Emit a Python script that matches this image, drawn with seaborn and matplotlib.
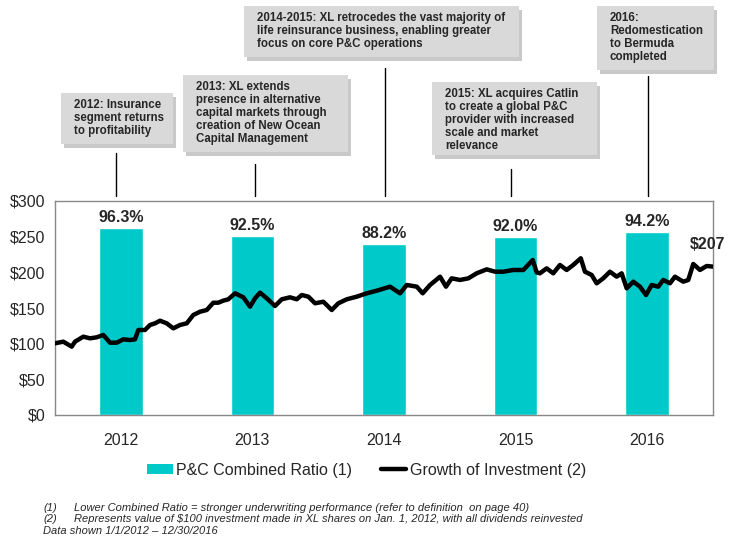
import matplotlib
matplotlib.use("Agg")
import matplotlib.pyplot as plt
from matplotlib.patches import Rectangle, Patch
from matplotlib.lines import Line2D
import seaborn as sns
import pandas as pd

# Bars: P&C combined ratio, drawn on the $ scale as in the original
years = ["2012", "2013", "2014", "2015", "2016"]
bar_heights = [262.7, 251.5, 239.8, 249.6, 256.7]
ratio_labels = ["96.3%", "92.5%", "88.2%", "92.0%", "94.2%"]

# Growth of $100 investment (decimal year, value)
line_years = [
    2012.000, 2012.063, 2012.127, 2012.152, 2012.215, 2012.266, 2012.317, 2012.367,
    2012.418, 2012.469, 2012.519, 2012.570, 2012.608, 2012.633, 2012.684, 2012.722,
    2012.760, 2012.798, 2012.849, 2012.899, 2012.950, 2013.001, 2013.051, 2013.102,
    2013.153, 2013.203, 2013.240, 2013.279, 2013.317, 2013.368, 2013.431, 2013.482,
    2013.520, 2013.558, 2013.609, 2013.672, 2013.723, 2013.786, 2013.837, 2013.875,
    2013.925, 2013.976, 2014.039, 2014.103, 2014.153, 2014.217, 2014.293, 2014.369,
    2014.445, 2014.546, 2014.584, 2014.622, 2014.673, 2014.749, 2014.794, 2014.850,
    2014.926, 2014.971, 2015.014, 2015.078, 2015.141, 2015.204, 2015.280, 2015.344,
    2015.407, 2015.483, 2015.559, 2015.630, 2015.660, 2015.685, 2015.736, 2015.786,
    2015.837, 2015.888, 2015.938, 2015.995, 2016.027, 2016.078, 2016.116, 2016.166,
    2016.217, 2016.268, 2016.306, 2016.344, 2016.394, 2016.445, 2016.491, 2016.534,
    2016.584, 2016.622, 2016.673, 2016.711, 2016.774, 2016.812, 2016.850, 2016.901,
    2016.952, 2017.000,
]
line_values = [
    100.5, 102.8, 95.8, 102.8, 109.8, 107.5, 108.9, 112.2,
    101.4, 101.4, 106.1, 105.1, 106.1, 119.2, 119.2, 126.2,
    128.5, 132.2, 128.5, 121.5, 126.2, 128.5, 140.2, 144.8,
    147.2, 157.4, 157.4, 160.3, 162.2, 170.6, 165.0, 151.9,
    163.6, 171.5, 163.6, 152.8, 162.2, 165.0, 162.2, 168.2,
    165.9, 156.6, 158.8, 147.2, 156.6, 162.2, 165.9, 170.6,
    174.3, 179.9, 175.2, 170.6, 182.3, 179.9, 170.6, 182.3,
    193.9, 179.9, 191.6, 189.3, 191.6, 198.6, 204.2, 200.9,
    200.9, 203.3, 203.3, 217.3, 200.0, 198.6, 205.6, 198.6,
    210.3, 203.3, 210.3, 219.7, 200.9, 196.3, 184.6, 191.6,
    200.9, 193.9, 198.6, 177.6, 186.9, 179.9, 168.2, 182.3,
    179.9, 189.3, 184.6, 193.9, 186.9, 189.3, 211.7, 203.3,
    208.9, 208.0,
]
end_label = "$207"

events = [
    "2012: Insurance\nsegment returns\nto profitability",
    "2013: XL extends\npresence in alternative\ncapital markets through\ncreation of New Ocean\nCapital Management",
    "2014-2015: XL retrocedes the vast majority of\nlife reinsurance business, enabling greater\nfocus on core P&C operations",
    "2015: XL acquires Catlin\nto create a global P&C\nprovider with increased\nscale and market\nrelevance",
    "2016:\nRedomestication\nto Bermuda\ncompleted",
]

footnotes = [
    ("(1)", "Lower Combined Ratio = stronger underwriting performance (refer to definition  on page 40)"),
    ("(2)", "Represents value of $100 investment made in XL shares on Jan. 1, 2012, with all dividends reinvested"),
]
data_note = "Data shown 1/1/2012 \u2013 12/30/2016"

teal = "#00C9C9"
W, H = 733, 548

sns.set_style("white")
plt.rcParams["font.family"] = ["Liberation Sans", "DejaVu Sans"]

fig = plt.figure(figsize=(W / 100, H / 100), dpi=100)
ax = fig.add_axes([55 / W, 1 - 415 / H, 658 / W, 214 / H])


def fx(x):
    return x / W


def fy(y):
    return 1 - y / H


bars_df = pd.DataFrame({"year": years, "height": bar_heights})
sns.barplot(data=bars_df, x="year", y="height", color=teal, saturation=1,
            width=0.33, ax=ax, zorder=1)

line_df = pd.DataFrame({"pos": [y - 2012.5 for y in line_years], "value": line_values})
sns.lineplot(data=line_df, x="pos", y="value", color="black", linewidth=3.2,
             ax=ax, zorder=3)

for i, lab in enumerate(ratio_labels):
    ax.text(i, bar_heights[i] + 4, lab, ha="center", va="bottom",
            fontsize=11.5, fontweight="bold")
ax.text(line_df["pos"].iloc[-1] - 0.04, line_values[-1] + 21, end_label,
        ha="center", va="bottom", fontsize=11.5, fontweight="bold")

ax.set_xlim(-0.5, 4.5)
ax.set_ylim(0, 300)
ax.set_yticks(range(0, 301, 50))
ax.set_yticklabels([f"${v}" for v in range(0, 301, 50)], fontsize=11.5)
ax.set_xticks(range(len(years)))
ax.set_xticklabels(years, fontsize=11.5)
ax.tick_params(axis="x", length=0, pad=13)
ax.tick_params(axis="y", length=5, color="#888888", pad=2)
ax.set_xlabel("")
ax.set_ylabel("")
for s in ax.spines.values():
    s.set_color("#888888")
    s.set_linewidth(1)

# annotation boxes (left, top, right, bottom in pixels) and connector lines
boxes = [(61, 93, 173, 144), (183, 75, 348, 152), (244, 6, 519, 57),
         (432, 82, 597, 155), (597, 6, 714, 70)]
connectors = [(116, 153), (255, 164), (385, 68), (511, 169), (648, 76)]
for (l, t, r, b), txt in zip(boxes, events):
    shadow = Rectangle((fx(l + 3), fy(b + 4)), (r - l) / W, (b - t) / H,
                       transform=fig.transFigure, facecolor="#a6a6a6",
                       edgecolor="none", alpha=0.6, zorder=1)
    box = Rectangle((fx(l), fy(b)), (r - l) / W, (b - t) / H,
                    transform=fig.transFigure, facecolor="#d9d9d9",
                    edgecolor="none", zorder=2)
    fig.add_artist(shadow)
    fig.add_artist(box)
    fig.text(fx(l + 13), fy(t + 6), txt, ha="left", va="top", fontsize=8.3,
             fontweight="bold", linespacing=1.1, zorder=3)
for x, y0 in connectors:
    fig.add_artist(Line2D([fx(x), fx(x)], [fy(y0), fy(196)],
                          transform=fig.transFigure, color="black", linewidth=1))

handles = [Patch(facecolor=teal, edgecolor="none"),
           Line2D([0], [0], color="black", linewidth=3.2)]
fig.legend(handles, ["P&C Combined Ratio (1)", "Growth of Investment (2)"],
           loc="center", bbox_to_anchor=(0.5, fy(470)), ncol=2, frameon=False,
           fontsize=11.5, handlelength=1.6, handleheight=0.6, handletextpad=0.2,
           columnspacing=1.8)

for i, (num, txt) in enumerate(footnotes):
    fig.text(fx(43), fy(508 + i * 11.5), num, fontsize=8, style="italic", va="center")
    fig.text(fx(74), fy(508 + i * 11.5), txt, fontsize=8, style="italic", va="center")
fig.text(fx(43), fy(531), data_note, fontsize=8, style="italic", va="center")

fig.savefig("out.png", dpi=100)
